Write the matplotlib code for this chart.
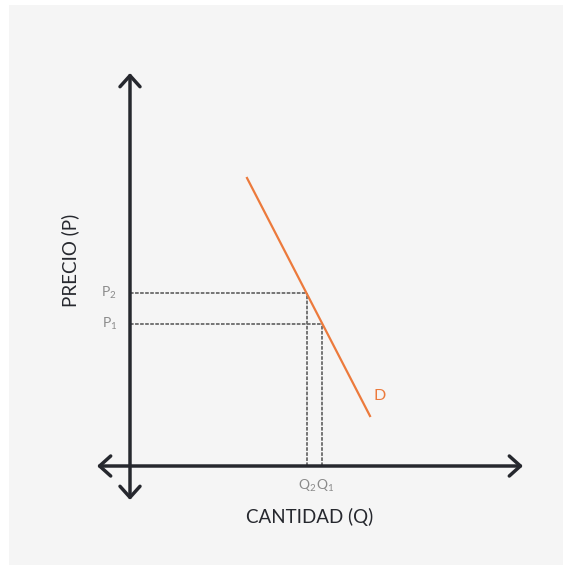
import matplotlib
matplotlib.use("Agg")
import matplotlib.pyplot as plt
from matplotlib.patches import Rectangle

plt.rcParams['font.family'] = ['Lato', 'DejaVu Sans']
plt.rcParams['mathtext.fontset'] = 'custom'
plt.rcParams['mathtext.rm'] = 'Lato'
plt.rcParams['mathtext.it'] = 'Lato'

# demand curve end points (Q, P)
demand_q = [11.7, 24.0]
demand_p = [28.8, 5.0]

# the two equilibrium points
q_points = [19.2, 17.7]   # Q1, Q2
p_points = [14.2, 17.3]   # P1, P2
p_labels = [r'$\mathregular{P_1}$', r'$\mathregular{P_2}$']
q_labels = [r'$\mathregular{Q_1}$', r'$\mathregular{Q_2}$']

# axis extent (arrow tips)
x_min, x_max = -3.3, 39.3
y_min, y_max = -3.4, 39.3

axis_col = '#26282e'
dash_col = '#6a6a6a'
orange = '#ec7a3c'
label_col = '#8a8a8a'

fig = plt.figure(figsize=(5.63, 5.65), dpi=100)
fig.patch.set_facecolor('white')
fig.patches.append(Rectangle((9 / 563, 0), 1, 1 - 5 / 565, transform=fig.transFigure,
                             facecolor='#f5f5f5', edgecolor='none', zorder=-5))

ax = fig.add_axes([0, 0, 1, 1])
ax.set_zorder(1)
ax.set_xlim(-13.0, 43.3)
ax.set_ylim(-9.9, 46.6)
ax.axis('off')
ax.patch.set_alpha(0)

arrow = dict(arrowstyle='<->, head_length=0.4, head_width=0.36', lw=2.5,
             color=axis_col, mutation_scale=20, shrinkA=0, shrinkB=0)
ax.annotate('', xy=(x_max, 0), xytext=(x_min, 0), arrowprops=arrow, zorder=5)
ax.annotate('', xy=(0, y_max), xytext=(0, y_min), arrowprops=arrow, zorder=5)

# dashed guides
for q, p in zip(q_points, p_points):
    ax.plot([0, q], [p, p], ls=(0, (2, 0.8)), lw=1.3, color=dash_col, zorder=2)
    ax.plot([q, q], [0, p], ls=(0, (2, 0.8)), lw=1.3, color=dash_col, zorder=2)

ax.plot(demand_q, demand_p, color=orange, lw=1.6, zorder=3)
ax.text(demand_q[1] + 0.3, demand_p[1] + 2.0, 'D', color=orange, fontsize=11.5,
        ha='left', va='center')

for p, lab in zip(p_points, p_labels):
    ax.text(-1.3, p, lab, color=label_col, fontsize=10, ha='right', va='center')
ax.text(q_points[0] - 0.6, -2.0, q_labels[0], color=label_col, fontsize=10,
        ha='left', va='center')
ax.text(q_points[1] + 0.9, -2.0, q_labels[1], color=label_col, fontsize=10,
        ha='right', va='center')

ax.text(18.0, -5.1, 'CANTIDAD (Q)', color=axis_col, fontsize=13.5, ha='center', va='center')
ax.text(-6.0, 20.6, 'PRECIO (P)', color=axis_col, fontsize=13.5, ha='center', va='center',
        rotation=90)

fig.savefig('out.png', dpi=100)
